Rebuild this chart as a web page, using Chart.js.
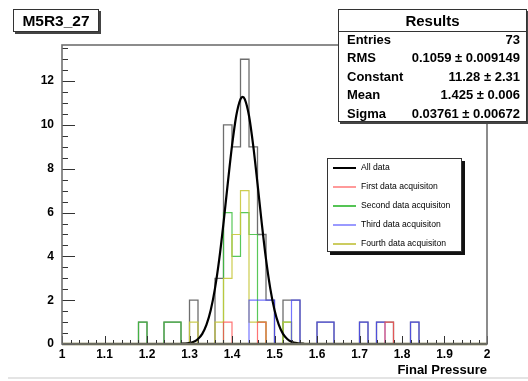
<!DOCTYPE html>
<html>
<head>
<meta charset="utf-8">
<script src="https://cdn.jsdelivr.net/npm/chart.js@4/dist/chart.umd.min.js"></script>
<style>
  body { margin: 0; background: #fff; font-family: "Liberation Sans", Arial, sans-serif; }
  #wrap { position: relative; width: 528px; height: 381px; overflow: hidden; }
  canvas { position: absolute; left: 0; top: 0; }
  .box { position: absolute; background: #fff; border: 1px solid #333; box-sizing: border-box; }
  #title { left: 13px; top: 9px; width: 86px; height: 23px; box-shadow: 2px 2px 0 #444;
           font-weight: bold; font-size: 15.5px; line-height: 21px; text-align: center; }
  #stats { left: 338px; top: 9px; width: 189px; height: 113px; box-shadow: 2px 2px 0 #444; font-weight: bold; }
  #stats .head { position: absolute; left: 0; right: 0; top: 0; height: 21px; border-bottom: 1px solid #333;
                 font-size: 15px; line-height: 21px; text-align: center; }
  #stats .row { position: absolute; left: 8px; right: 6px; height: 18px; line-height: 18px; font-size: 13px; }
  #stats .row span:last-child { position: absolute; right: 0; }
  #legend { left: 327px; top: 158px; width: 135px; height: 94px; box-shadow: 3px 3px 0 #111; font-size: 8.6px; }
  #legend .item { position: absolute; left: 5px; height: 12px; line-height: 12px; white-space: nowrap; }
  #legend .swatch { display: inline-block; width: 23px; height: 2px; vertical-align: middle; margin-right: 5px; }
  #xtitle { position: absolute; right: 41px; top: 362px; font-weight: bold; font-size: 13px; }
  #bottomline { position: absolute; left: 8px; top: 377px; width: 520px; height: 2px; background: #e4e4e4; }
</style>
</head>
<body>
<div id="wrap">
  <canvas id="histChart" width="528" height="381"></canvas>
  <div id="title" class="box">M5R3_27</div>
  <div id="stats" class="box"></div>
  <div id="legend" class="box"></div>
  <div id="xtitle">Final Pressure</div>
  <div id="bottomline"></div>
</div>
<script>
// binning of the histogram (ROOT style, 50 bins from 1 to 2)
const xMin = 1, xMax = 2, nBins = 50, binWidth = 0.02;
const yMax = 13.65;

const xTickValues = [1, 1.1, 1.2, 1.3, 1.4, 1.5, 1.6, 1.7, 1.8, 1.9, 2];
const xTickLabels = ["1", "1.1", "1.2", "1.3", "1.4", "1.5", "1.6", "1.7", "1.8", "1.9", "2"];
const yTickValues = [0, 2, 4, 6, 8, 10, 12];

// non empty bins: low edge + count
const allLows = [1.18, 1.24, 1.26, 1.30, 1.36, 1.38, 1.40, 1.42, 1.44, 1.46, 1.48, 1.52, 1.54, 1.60, 1.62, 1.70, 1.74, 1.76, 1.82];
const allCounts = [1, 1, 1, 2, 3, 10, 9, 13, 9, 5, 2, 2, 2, 1, 1, 1, 1, 1, 1];

const firstLows = [1.38, 1.46, 1.76];
const firstCounts = [1, 1, 1];

const secondLows = [1.18, 1.24, 1.26, 1.38, 1.40, 1.42, 1.44, 1.46, 1.52];
const secondCounts = [1, 1, 1, 6, 4, 6, 5, 1, 1];

const thirdLows = [1.44, 1.46, 1.48, 1.54, 1.60, 1.62, 1.70, 1.74, 1.82];
const thirdCounts = [2, 2, 2, 2, 1, 1, 1, 1, 1];

const fourthLows = [1.30, 1.36, 1.38, 1.40, 1.42, 1.44, 1.46, 1.52];
const fourthCounts = [1, 1, 3, 5, 7, 1, 1, 1];

// gaussian fit curve
const fitX = [1.28, 1.29, 1.30, 1.31, 1.32, 1.33, 1.34, 1.35, 1.36, 1.37, 1.38, 1.39, 1.40, 1.41, 1.42, 1.425,
              1.43, 1.44, 1.45, 1.46, 1.47, 1.48, 1.49, 1.50, 1.51, 1.52, 1.53, 1.54, 1.55, 1.56, 1.57];
const fitY = [0.01, 0.02, 0.05, 0.1, 0.23, 0.46, 0.88, 1.55, 2.54, 3.87, 5.52, 7.32, 9.04, 10.42, 11.18, 11.28,
              11.18, 10.42, 9.04, 7.32, 5.52, 3.87, 2.54, 1.55, 0.88, 0.46, 0.23, 0.1, 0.05, 0.02, 0.01];

const statsRows = [
  ["Entries", "73"],
  ["RMS", "0.1059 \u00b1 0.009149"],
  ["Constant", "11.28 \u00b1 2.31"],
  ["Mean", "1.425 \u00b1 0.006"],
  ["Sigma", "0.03761 \u00b1 0.00672"]
];

const legendLabels = ["All data", "First data acquisiton", "Second data acquisiton", "Third data acquisiton", "Fourth data acquisiton"];
const legendColors = ["#000", "#ff9a9a", "#55c455", "#9a9aff", "#cccc60"];

function histPoints(lows, counts) {
  const bins = new Array(nBins).fill(0);
  lows.forEach((lo, i) => { bins[Math.round((lo - xMin) / binWidth)] = counts[i]; });
  const pts = bins.map((c, k) => ({ x: xMin + k * binWidth, y: c }));
  pts.push({ x: xMax, y: 0 });
  return pts;
}

// stepped "before": the horizontal segment at a bin's height starts at its low edge
function histSet(label, lows, counts, color, order, width) {
  return {
    label, data: histPoints(lows, counts), borderColor: color, borderWidth: width || 1.2,
    stepped: "before", pointRadius: 0, fill: false, order
  };
}

// frame, inward ticks and thick baseline like ROOT draws them
const rootFrame = {
  id: "rootFrame",
  afterDatasetsDraw(chart) {
    const { ctx, chartArea: a, scales: { x, y } } = chart;
    ctx.save();
    const y0 = y.getPixelForValue(0);
    ctx.strokeStyle = "#5c5a22";
    ctx.lineWidth = 2.6;
    ctx.beginPath(); ctx.moveTo(a.left, y0); ctx.lineTo(a.right, y0); ctx.stroke();

    ctx.strokeStyle = "#333";
    ctx.lineWidth = 1;
    for (let k = 0; k <= nBins; k++) {
      const px = Math.round(x.getPixelForValue(xMin + k * binWidth)) + 0.5;
      const len = k % 5 === 0 ? 8 : 4;
      ctx.beginPath(); ctx.moveTo(px, a.bottom); ctx.lineTo(px, a.bottom - len); ctx.stroke();
    }
    for (let k = 0; k * 0.5 < yMax; k++) {
      const py = Math.round(y.getPixelForValue(k * 0.5)) + 0.5;
      const len = k % 4 === 0 ? 13 : 6;
      ctx.beginPath(); ctx.moveTo(a.left, py); ctx.lineTo(a.left + len, py); ctx.stroke();
    }
    ctx.strokeStyle = "#707070";
    ctx.lineWidth = 1.6;
    ctx.strokeRect(a.left, a.top, a.right - a.left, a.bottom - a.top);
    ctx.restore();
  }
};

Chart.defaults.font.family = '"Liberation Sans", Arial, sans-serif';

new Chart(document.getElementById("histChart").getContext("2d"), {
  type: "line",
  data: {
    datasets: [
      { label: "fit", data: fitX.map((v, i) => ({ x: v, y: fitY[i] })), borderColor: "#000", borderWidth: 2.2,
        pointRadius: 0, cubicInterpolationMode: "monotone", fill: false, order: 0 },
      histSet("First data acquisiton", firstLows, firstCounts, "rgba(255,80,80,0.8)", 1),
      histSet("Third data acquisiton", thirdLows, thirdCounts, "rgba(70,70,255,0.75)", 2),
      histSet("Fourth data acquisiton", fourthLows, fourthCounts, "rgba(200,200,60,0.9)", 3),
      histSet("Second data acquisiton", secondLows, secondCounts, "rgba(60,190,60,0.85)", 4),
      histSet("All data", allLows, allCounts, "#6e6e6e", 5, 1.3)
    ]
  },
  options: {
    responsive: false,
    animation: false,
    devicePixelRatio: 1,
    layout: { padding: { top: 45, right: 41, left: 0, bottom: 0 } },
    plugins: { legend: { display: false }, tooltip: { enabled: false } },
    scales: {
      x: {
        type: "linear", min: xMin, max: xMax,
        afterBuildTicks: s => { s.ticks = xTickValues.map(v => ({ value: v })); },
        afterFit: s => { s.height = 37; },
        grid: { display: false, drawTicks: false },
        border: { display: false },
        ticks: { padding: 3, color: "#000", font: { size: 12, weight: "bold" }, maxRotation: 0, autoSkip: false,
                 callback: (v, i) => xTickLabels[i] }
      },
      y: {
        type: "linear", min: 0, max: yMax,
        afterBuildTicks: s => { s.ticks = yTickValues.map(v => ({ value: v })); },
        afterFit: s => { s.width = 62; },
        grid: { display: false, drawTicks: false },
        border: { display: false },
        ticks: { padding: 8, color: "#000", font: { size: 12, weight: "bold" }, callback: v => String(v) }
      }
    }
  },
  plugins: [rootFrame]
});

// stats box
const stats = document.getElementById("stats");
stats.innerHTML = '<div class="head">Results</div>' + statsRows.map((r, i) =>
  `<div class="row" style="top:${21 + i * 18.4}px"><span>${r[0]}</span><span>${r[1]}</span></div>`).join("");

// legend box
const legend = document.getElementById("legend");
legend.innerHTML = legendLabels.map((t, i) =>
  `<div class="item" style="top:${2 + i * 19}px"><span class="swatch" style="background:${legendColors[i]}"></span>${t}</div>`).join("");
</script>
</body>
</html>
